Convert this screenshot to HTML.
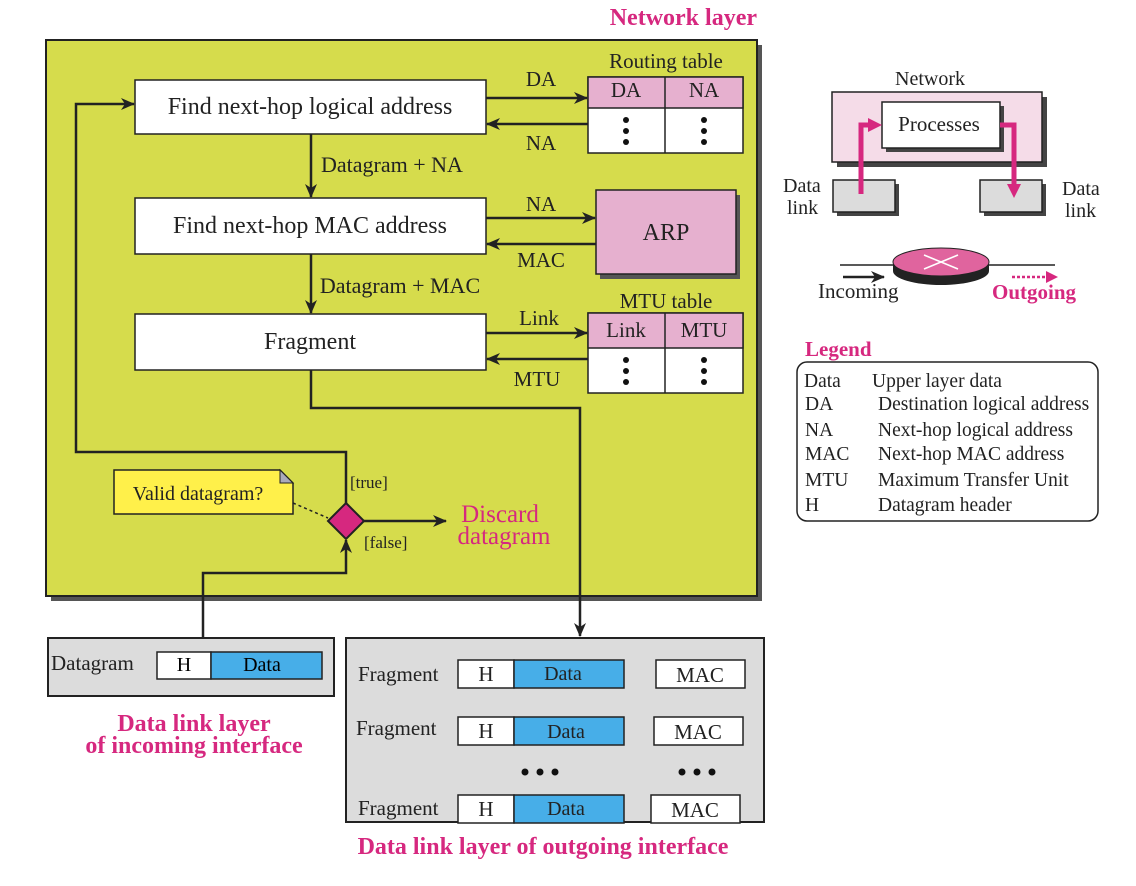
<!DOCTYPE html>
<html><head><style>body{margin:0;background:#fff}svg{display:block}</style></head><body>
<svg width="1136" height="886" viewBox="0 0 1136 886" xmlns="http://www.w3.org/2000/svg" font-family="Liberation Serif, serif">
<defs>
<marker id="a" markerWidth="14" markerHeight="12" refX="13" refY="6" orient="auto" markerUnits="userSpaceOnUse"><path d="M0,0 L14,6 L0,12 L4,6z" fill="#222"/></marker>
</defs>
<text x="757" y="25" font-size="24" font-weight="bold" fill="#d6287f" text-anchor="end">Network layer</text>
<rect x="51" y="45" width="711" height="556" fill="#555"/>
<rect x="46" y="40" width="711" height="556" fill="#d6dc4c" stroke="#222" stroke-width="2"/>
<g stroke="#222" stroke-width="1.5">
<rect x="135" y="80" width="351" height="54" fill="#fff"/>
<rect x="135" y="198" width="351" height="56" fill="#fff"/>
<rect x="135" y="314" width="351" height="56" fill="#fff"/>
<rect x="588" y="77" width="155" height="76" fill="#fff"/>
<rect x="588" y="77" width="155" height="31" fill="#e6b0cf"/>
<line x1="665" y1="77" x2="665" y2="153"/>
<rect x="600" y="195" width="140" height="84" fill="#555" stroke="none"/>
<rect x="596" y="190" width="140" height="84" fill="#e6b0cf"/>
<rect x="588" y="313" width="155" height="80" fill="#fff"/>
<rect x="588" y="313" width="155" height="35" fill="#e6b0cf"/>
<line x1="665" y1="313" x2="665" y2="393"/>
</g>
<g font-size="24" fill="#222" text-anchor="middle">
<text x="310" y="114">Find next-hop logical address</text>
<text x="310" y="233">Find next-hop MAC address</text>
<text x="310" y="349">Fragment</text>
<text x="666" y="240">ARP</text>
</g>
<g font-size="21" fill="#222" text-anchor="middle">
<text x="666" y="68">Routing table</text>
<text x="626" y="97">DA</text><text x="704" y="97">NA</text>
<text x="666" y="308">MTU table</text>
<text x="626" y="337">Link</text><text x="704" y="337">MTU</text>
<text x="541" y="86">DA</text><text x="541" y="150">NA</text>
<text x="541" y="211">NA</text><text x="541" y="267">MAC</text>
<text x="539" y="325">Link</text><text x="537" y="386">MTU</text>
<text x="392" y="172" font-size="22">Datagram + NA</text>
<text x="400" y="293" font-size="22">Datagram + MAC</text>
</g>
<g fill="#111">
<circle cx="626" cy="120" r="3"/><circle cx="626" cy="131" r="3"/><circle cx="626" cy="142" r="3"/>
<circle cx="704" cy="120" r="3"/><circle cx="704" cy="131" r="3"/><circle cx="704" cy="142" r="3"/>
<circle cx="626" cy="360" r="3"/><circle cx="626" cy="371" r="3"/><circle cx="626" cy="382" r="3"/>
<circle cx="704" cy="360" r="3"/><circle cx="704" cy="371" r="3"/><circle cx="704" cy="382" r="3"/>
</g>
<g stroke="#222" stroke-width="2.5" fill="none" marker-end="url(#a)">
<line x1="486" y1="98" x2="587" y2="98"/>
<line x1="588" y1="124" x2="487" y2="124"/>
<line x1="486" y1="218" x2="595" y2="218"/>
<line x1="596" y1="244" x2="487" y2="244"/>
<line x1="486" y1="333" x2="587" y2="333"/>
<line x1="588" y1="359" x2="487" y2="359"/>
<line x1="311" y1="134" x2="311" y2="197"/>
<line x1="311" y1="254" x2="311" y2="313"/>
<polyline points="311,370 311,408 580,408 580,636"/>
<polyline points="346,503 346,452 76,452 76,104 134,104"/>
<polyline points="203,638 203,573 346,573 346,540"/>
<line x1="364" y1="521" x2="446" y2="521"/>
</g>
<path d="M114,470 H280 L293,483 V514 H114z" fill="#fff04a" stroke="#222" stroke-width="1.5"/>
<path d="M280,470 L293,483 H280z" fill="#aab" stroke="#222" stroke-width="1"/>
<text x="198" y="500" font-size="20" fill="#222" text-anchor="middle">Valid datagram?</text>
<line x1="293" y1="503" x2="328" y2="518" stroke="#222" stroke-width="1.5" stroke-dasharray="3,3"/>
<path d="M346,503 L364,521 L346,539 L328,521z" fill="#d6287f" stroke="#222" stroke-width="2"/>
<text x="350" y="488" font-size="17" fill="#222">[true]</text>
<text x="364" y="548" font-size="17" fill="#222">[false]</text>
<text x="500" y="522" font-size="25" fill="#d6287f" text-anchor="middle">Discard</text>
<text x="504" y="544" font-size="25" fill="#d6287f" text-anchor="middle">datagram</text>
<!-- incoming -->
<rect x="48" y="638" width="286" height="58" fill="#dcdcdc" stroke="#222" stroke-width="2"/>
<text x="51" y="670" font-size="21" fill="#222">Datagram</text>
<rect x="157" y="652" width="54" height="27" fill="#fff" stroke="#222" stroke-width="1.5"/>
<rect x="211" y="652" width="111" height="27" fill="#47aee8" stroke="#222" stroke-width="1.5"/>
<text x="184" y="671" font-size="20" text-anchor="middle">H</text>
<text x="262" y="671" font-size="20" text-anchor="middle">Data</text>
<text x="194" y="731" font-size="24" font-weight="bold" fill="#d6287f" text-anchor="middle">Data link layer</text>
<text x="194" y="753" font-size="24" font-weight="bold" fill="#d6287f" text-anchor="middle">of incoming interface</text>
<!-- outgoing -->
<rect x="346" y="638" width="418" height="184" fill="#dcdcdc" stroke="#222" stroke-width="2"/>
<g font-size="21" fill="#222">
<text x="358" y="681">Fragment</text><text x="356" y="735">Fragment</text><text x="358" y="815">Fragment</text>
</g>
<g stroke="#222" stroke-width="1.5">
<rect x="458" y="660" width="56" height="28" fill="#fff"/><rect x="514" y="660" width="110" height="28" fill="#47aee8"/>
<rect x="458" y="717" width="56" height="28" fill="#fff"/><rect x="514" y="717" width="110" height="28" fill="#47aee8"/>
<rect x="458" y="795" width="56" height="28" fill="#fff"/><rect x="514" y="795" width="110" height="28" fill="#47aee8"/>
<rect x="656" y="660" width="89" height="28" fill="#fff"/>
<rect x="654" y="717" width="89" height="28" fill="#fff"/>
<rect x="651" y="795" width="89" height="28" fill="#fff"/>
</g>
<g font-size="21" text-anchor="middle" fill="#222">
<text x="486" y="681">H</text><text x="486" y="738">H</text><text x="486" y="816">H</text>
<text x="700" y="682">MAC</text><text x="698" y="739">MAC</text><text x="695" y="817">MAC</text>
</g>
<g font-size="20" text-anchor="middle" fill="#222">
<text x="563" y="680">Data</text><text x="566" y="738">Data</text><text x="566" y="815">Data</text>
</g>
<g fill="#111"><circle cx="525" cy="772" r="3.5"/><circle cx="540" cy="772" r="3.5"/><circle cx="555" cy="772" r="3.5"/>
<circle cx="682" cy="772" r="3.5"/><circle cx="697" cy="772" r="3.5"/><circle cx="712" cy="772" r="3.5"/></g>
<text x="543" y="854" font-size="24" font-weight="bold" fill="#d6287f" text-anchor="middle">Data link layer of outgoing interface</text>
<!-- right diagram -->
<text x="930" y="85" font-size="20" fill="#222" text-anchor="middle">Network</text>
<rect x="837" y="97" width="210" height="70" fill="#444"/>
<rect x="832" y="92" width="210" height="70" fill="#f5dce8" stroke="#222" stroke-width="1.5"/>
<rect x="886" y="106" width="118" height="46" fill="#444"/>
<rect x="882" y="102" width="118" height="46" fill="#fff" stroke="#222" stroke-width="1.5"/>
<text x="939" y="131" font-size="21" fill="#222" text-anchor="middle">Processes</text>
<rect x="837" y="184" width="62" height="32" fill="#444"/>
<rect x="833" y="180" width="62" height="32" fill="#dcdcdc" stroke="#222" stroke-width="1.5"/>
<rect x="984" y="184" width="62" height="32" fill="#444"/>
<rect x="980" y="180" width="62" height="32" fill="#dcdcdc" stroke="#222" stroke-width="1.5"/>
<g stroke="#d6287f" stroke-width="5" fill="none">
<polyline points="861,194 861,125 870,125"/><polyline points="1000,125 1014,125 1014,185"/>
</g>
<path d="M868,118 L882,125 L868,132z M1007,184 L1021,184 L1014,198z" fill="#d6287f"/>
<g font-size="20" fill="#222"><text x="783" y="192">Data</text><text x="787" y="214">link</text>
<text x="1062" y="195">Data</text><text x="1065" y="217">link</text></g>
<line x1="840" y1="265" x2="1055" y2="265" stroke="#222" stroke-width="1.5"/>
<ellipse cx="941" cy="271" rx="48" ry="14" fill="#222"/>
<rect x="893" y="262" width="96" height="9" fill="#222"/>
<ellipse cx="941" cy="262" rx="48" ry="14" fill="#e0649e" stroke="#222" stroke-width="1"/>
<g stroke="#fff" stroke-width="1.5"><line x1="924" y1="255" x2="958" y2="269"/><line x1="924" y1="269" x2="958" y2="255"/></g>
<line x1="843" y1="277" x2="884" y2="277" stroke="#222" stroke-width="2.5" marker-end="url(#a)"/>
<line x1="1012" y1="277" x2="1050" y2="277" stroke="#d6287f" stroke-width="2.5" stroke-dasharray="3,2"/>
<path d="M1046,271 L1058,277 L1046,283z" fill="#d6287f"/>
<text x="818" y="298" font-size="21" fill="#222">Incoming</text>
<text x="992" y="299" font-size="21" font-weight="bold" fill="#d6287f">Outgoing</text>
<!-- legend -->
<text x="805" y="356" font-size="21" font-weight="bold" fill="#d6287f">Legend</text>
<rect x="797" y="362" width="301" height="159" rx="10" fill="#fff" stroke="#222" stroke-width="1.5"/>
<g font-size="19.5" fill="#222">
<text x="804" y="387">Data</text><text x="872" y="387">Upper layer data</text>
<text x="805" y="410">DA</text><text x="878" y="410">Destination logical address</text>
<text x="805" y="436">NA</text><text x="878" y="436">Next-hop logical address</text>
<text x="805" y="460">MAC</text><text x="878" y="460">Next-hop MAC address</text>
<text x="805" y="486">MTU</text><text x="878" y="486">Maximum Transfer Unit</text>
<text x="805" y="511">H</text><text x="878" y="511">Datagram header</text>
</g>
</svg>
</body></html>
